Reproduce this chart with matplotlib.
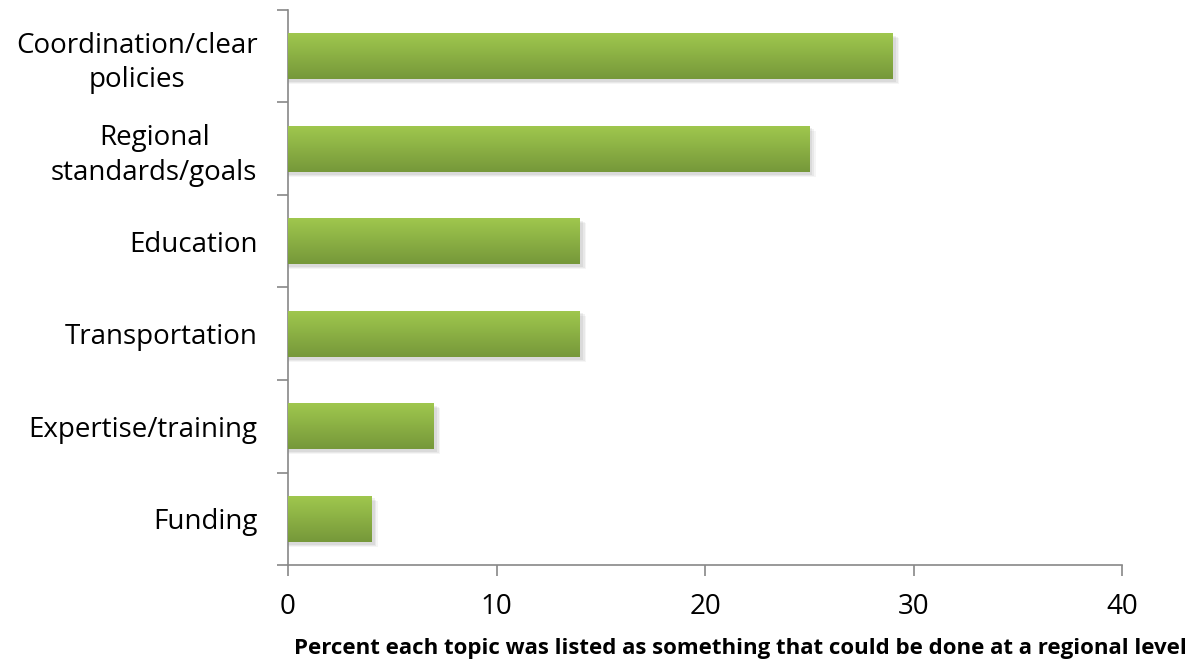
import matplotlib.pyplot as plt
import numpy as np
from matplotlib.colors import LinearSegmentedColormap

# Topics listed as something that could be done at a regional level
topics = ['Coordination/clear\npolicies', 'Regional\nstandards/goals', 'Education',
          'Transportation', 'Expertise/training', 'Funding']
percent = [29, 25, 14, 14, 7, 4]
xticks = [0, 10, 20, 30, 40]

plt.rcParams['font.family'] = ['Open Sans', 'DejaVu Sans']

fig = plt.figure(figsize=(11.9, 6.62), dpi=100)
ax = fig.add_axes([0.242, 0.1465, 0.701, 0.8385])

y = np.arange(len(topics))[::-1]
green = LinearSegmentedColormap.from_list('g', ['#a0c84e', '#76983a'])
grad = np.linspace(0, 1, 100).reshape(-1, 1)

# soft shadow under each bar
for yi, v in zip(y, percent):
    for k, a in enumerate([0.06, 0.05, 0.04]):
        ax.barh(yi - 0.03 - k * 0.012, v + 0.15 + k * 0.08, height=0.5, color='black',
                alpha=a, linewidth=0, zorder=1)

bars = ax.barh(y, percent, height=0.5, color='none', linewidth=0, zorder=2)
for b in bars:
    x0, y0 = b.get_x(), b.get_y()
    im = ax.imshow(grad, cmap=green, aspect='auto', zorder=3,
                   extent=[x0, x0 + b.get_width(), y0, y0 + b.get_height()], origin='upper')
    im.set_clip_path(b)

ax.set_xlim(0, 40)
ax.set_ylim(-0.5, len(topics) - 0.5)
ax.set_xticks(xticks)
ax.set_yticks(y)
ax.set_yticklabels(topics, multialignment='center', fontsize=20, linespacing=1.3)
ax.set_yticks(np.arange(len(topics) + 1) - 0.5, minor=True)
ax.tick_params(axis='y', which='major', length=0, pad=22)
ax.tick_params(axis='y', which='minor', length=8, color='#888888', width=1.2)
ax.tick_params(axis='x', length=8, color='#888888', width=1.2, labelsize=20, pad=12)

for s in ['top', 'right']:
    ax.spines[s].set_visible(False)
for s in ['left', 'bottom']:
    ax.spines[s].set_color('#888888')
    ax.spines[s].set_linewidth(1.2)

fig.text(0.622, 0.004, 'Percent each topic was listed as something that could be done at a regional level',
         ha='center', va='bottom', fontsize=16, fontweight='bold')

fig.savefig('out.png', dpi=100)
